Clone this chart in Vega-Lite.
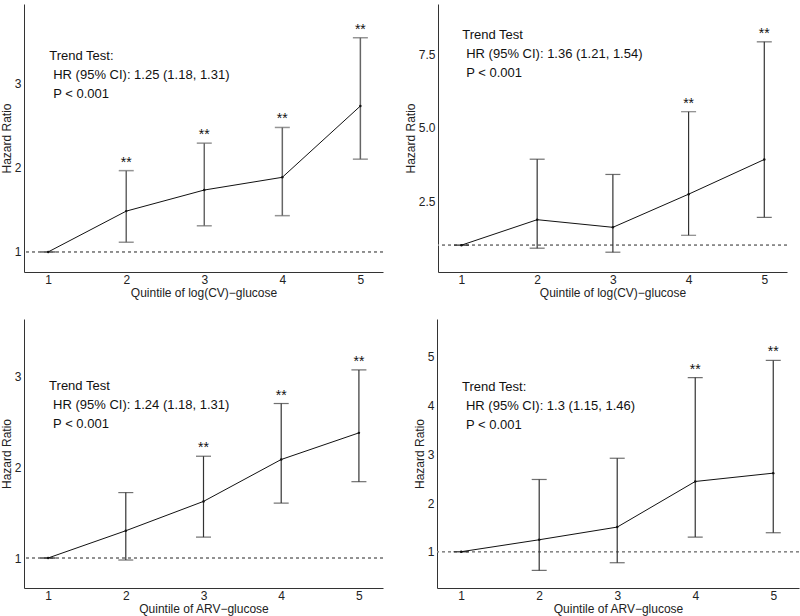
{
  "$schema": "https://vega.github.io/schema/vega-lite/v6.json",
  "padding": {"left": 0, "top": 4, "right": 0, "bottom": 3},
  "config": {
    "view": {"stroke": null},
    "font": "Liberation Sans",
    "axis": {"grid": false, "ticks": false, "domainColor": "#333", "domainWidth": 1, "labelFont": "Liberation Sans", "labelFontSize": 12, "labelColor": "#222", "titleFont": "Liberation Sans", "titleFontSize": 12, "titleFontWeight": "normal", "titleColor": "#222", "labelPadding": 3, "titlePadding": 1},
    "axisX": {"labelPadding": 2, "titlePadding": 2, "format": "d"},
    "text": {"font": "Liberation Sans", "color": "#111"}
  },
  "datasets": {
    "points": [
      {"panel": "A", "quintile": 1, "hr": 1.0, "lo": 1.0, "hi": 1.0, "sig": ""},
      {"panel": "A", "quintile": 2, "hr": 1.484, "lo": 1.115, "hi": 1.964, "sig": "**"},
      {"panel": "A", "quintile": 3, "hr": 1.734, "lo": 1.31, "hi": 2.29, "sig": "**"},
      {"panel": "A", "quintile": 4, "hr": 1.885, "lo": 1.43, "hi": 2.476, "sig": "**"},
      {"panel": "A", "quintile": 5, "hr": 2.73, "lo": 2.1, "hi": 3.54, "sig": "**"},
      {"panel": "B", "quintile": 1, "hr": 1.0, "lo": 1.0, "hi": 1.0, "sig": ""},
      {"panel": "B", "quintile": 2, "hr": 1.868, "lo": 0.897, "hi": 3.93, "sig": ""},
      {"panel": "B", "quintile": 3, "hr": 1.608, "lo": 0.76, "hi": 3.41, "sig": ""},
      {"panel": "B", "quintile": 4, "hr": 2.737, "lo": 1.337, "hi": 5.547, "sig": "**"},
      {"panel": "B", "quintile": 5, "hr": 3.92, "lo": 1.947, "hi": 7.93, "sig": "**"},
      {"panel": "C", "quintile": 1, "hr": 1.0, "lo": 1.0, "hi": 1.0, "sig": ""},
      {"panel": "C", "quintile": 2, "hr": 1.3, "lo": 0.978, "hi": 1.72, "sig": ""},
      {"panel": "C", "quintile": 3, "hr": 1.623, "lo": 1.23, "hi": 2.12, "sig": "**"},
      {"panel": "C", "quintile": 4, "hr": 2.084, "lo": 1.604, "hi": 2.7, "sig": "**"},
      {"panel": "C", "quintile": 5, "hr": 2.377, "lo": 1.84, "hi": 3.07, "sig": "**"},
      {"panel": "D", "quintile": 1, "hr": 1.0, "lo": 1.0, "hi": 1.0, "sig": ""},
      {"panel": "D", "quintile": 2, "hr": 1.246, "lo": 0.617, "hi": 2.484, "sig": ""},
      {"panel": "D", "quintile": 3, "hr": 1.506, "lo": 0.774, "hi": 2.92, "sig": ""},
      {"panel": "D", "quintile": 4, "hr": 2.443, "lo": 1.3, "hi": 4.576, "sig": "**"},
      {"panel": "D", "quintile": 5, "hr": 2.614, "lo": 1.39, "hi": 4.93, "sig": "**"}
    ],
    "trend": [
      {"panel": "A", "head": "Trend Test:", "body": "HR (95% CI): 1.25 (1.18, 1.31)\nP < 0.001"},
      {"panel": "B", "head": "Trend Test", "body": "HR (95% CI): 1.36 (1.21, 1.54)\nP < 0.001"},
      {"panel": "C", "head": "Trend Test", "body": "HR (95% CI): 1.24 (1.18, 1.31)\nP < 0.001"},
      {"panel": "D", "head": "Trend Test:", "body": "HR (95% CI): 1.3 (1.15, 1.46)\nP < 0.001"}
    ]
  },
  "vconcat": [
    {
      "hconcat": [
        {
          "width": 359, "height": 268,
          "data": {"name": "points"},
          "transform": [{"filter": "datum.panel == 'A'"}],
          "layer": [
            {"mark": {"type": "rule", "color": "#888", "strokeDash": [3, 3], "strokeWidth": 0.8},
             "encoding": {"y": {"datum": 1, "type": "quantitative", "scale": {"domain": [0.762, 3.94], "nice": false, "zero": false}, "axis": {"values": [1, 2, 3], "format": "d", "title": "Hazard Ratio"}}}},
            {"mark": {"type": "rule", "color": "#666", "strokeWidth": 1.5},
             "encoding": {"x": {"field": "quintile", "type": "quantitative", "scale": {"domain": [0.69, 5.29], "nice": false, "zero": false}, "axis": {"values": [1, 2, 3, 4, 5], "title": "Quintile of log(CV)\u2212glucose"}}, "y": {"field": "lo", "type": "quantitative"}, "y2": {"field": "hi"}}},
            {"mark": {"type": "tick", "orient": "horizontal", "size": 15, "thickness": 1.5, "color": "#666"},
             "encoding": {"x": {"field": "quintile", "type": "quantitative"}, "y": {"field": "lo", "type": "quantitative"}}},
            {"mark": {"type": "tick", "orient": "horizontal", "size": 15, "thickness": 1.5, "color": "#666"},
             "encoding": {"x": {"field": "quintile", "type": "quantitative"}, "y": {"field": "hi", "type": "quantitative"}}},
            {"mark": {"type": "line", "color": "#111", "strokeWidth": 1},
             "encoding": {"x": {"field": "quintile", "type": "quantitative"}, "y": {"field": "hr", "type": "quantitative"}}},
            {"mark": {"type": "point", "filled": true, "size": 6, "color": "#111", "opacity": 1},
             "encoding": {"x": {"field": "quintile", "type": "quantitative"}, "y": {"field": "hr", "type": "quantitative"}}},
            {"mark": {"type": "text", "baseline": "bottom", "dy": -1, "fontSize": 14},
             "encoding": {"x": {"field": "quintile", "type": "quantitative"}, "y": {"field": "hi", "type": "quantitative"}, "text": {"field": "sig"}}},
            {"data": {"name": "trend"},
             "transform": [{"filter": "datum.panel == 'A'"}],
             "layer": [
               {"mark": {"type": "text", "align": "left", "baseline": "alphabetic", "fontSize": 13},
                "encoding": {"x": {"datum": 1.013, "type": "quantitative"}, "y": {"datum": 3.28, "type": "quantitative"}, "text": {"field": "head"}}},
               {"mark": {"type": "text", "align": "left", "baseline": "alphabetic", "fontSize": 13, "lineHeight": 19, "lineBreak": "\n", "dx": 4, "dy": 19},
                "encoding": {"x": {"datum": 1.013, "type": "quantitative"}, "y": {"datum": 3.28, "type": "quantitative"}, "text": {"field": "body"}}}
             ]}
          ]
        },
        {
          "width": 349, "height": 268,
          "data": {"name": "points"},
          "transform": [{"filter": "datum.panel == 'B'"}],
          "layer": [
            {"mark": {"type": "rule", "color": "#888", "strokeDash": [3, 3], "strokeWidth": 0.8},
             "encoding": {"y": {"datum": 1, "type": "quantitative", "scale": {"domain": [0.085, 9.22], "nice": false, "zero": false}, "axis": {"values": [2.5, 5, 7.5], "format": ".1f", "title": "Hazard Ratio"}}}},
            {"mark": {"type": "rule", "color": "#333", "strokeWidth": 1.2},
             "encoding": {"x": {"field": "quintile", "type": "quantitative", "scale": {"domain": [0.69, 5.3], "nice": false, "zero": false}, "axis": {"values": [1, 2, 3, 4, 5], "title": "Quintile of log(CV)\u2212glucose"}}, "y": {"field": "lo", "type": "quantitative"}, "y2": {"field": "hi"}}},
            {"mark": {"type": "tick", "orient": "horizontal", "size": 15, "thickness": 1.2, "color": "#333"},
             "encoding": {"x": {"field": "quintile", "type": "quantitative"}, "y": {"field": "lo", "type": "quantitative"}}},
            {"mark": {"type": "tick", "orient": "horizontal", "size": 15, "thickness": 1.2, "color": "#333"},
             "encoding": {"x": {"field": "quintile", "type": "quantitative"}, "y": {"field": "hi", "type": "quantitative"}}},
            {"mark": {"type": "line", "color": "#111", "strokeWidth": 1},
             "encoding": {"x": {"field": "quintile", "type": "quantitative"}, "y": {"field": "hr", "type": "quantitative"}}},
            {"mark": {"type": "point", "filled": true, "size": 6, "color": "#111", "opacity": 1},
             "encoding": {"x": {"field": "quintile", "type": "quantitative"}, "y": {"field": "hr", "type": "quantitative"}}},
            {"mark": {"type": "text", "baseline": "bottom", "dy": -1, "fontSize": 14},
             "encoding": {"x": {"field": "quintile", "type": "quantitative"}, "y": {"field": "hi", "type": "quantitative"}, "text": {"field": "sig"}}},
            {"data": {"name": "trend"},
             "transform": [{"filter": "datum.panel == 'B'"}],
             "layer": [
               {"mark": {"type": "text", "align": "left", "baseline": "alphabetic", "fontSize": 13},
                "encoding": {"x": {"datum": 1.01, "type": "quantitative"}, "y": {"datum": 8.02, "type": "quantitative"}, "text": {"field": "head"}}},
               {"mark": {"type": "text", "align": "left", "baseline": "alphabetic", "fontSize": 13, "lineHeight": 19, "lineBreak": "\n", "dx": 4, "dy": 19},
                "encoding": {"x": {"datum": 1.01, "type": "quantitative"}, "y": {"datum": 8.02, "type": "quantitative"}, "text": {"field": "body"}}}
             ]}
          ]
        }
      ],
      "spacing": 20
    },
    {
      "hconcat": [
        {
          "width": 359, "height": 269,
          "data": {"name": "points"},
          "transform": [{"filter": "datum.panel == 'C'"}],
          "layer": [
            {"mark": {"type": "rule", "color": "#888", "strokeDash": [3, 3], "strokeWidth": 0.8},
             "encoding": {"y": {"datum": 1, "type": "quantitative", "scale": {"domain": [0.67, 3.63], "nice": false, "zero": false}, "axis": {"values": [1, 2, 3], "format": "d", "title": "Hazard Ratio"}}}},
            {"mark": {"type": "rule", "color": "#333", "strokeWidth": 1.2},
             "encoding": {"x": {"field": "quintile", "type": "quantitative", "scale": {"domain": [0.69, 5.31], "nice": false, "zero": false}, "axis": {"values": [1, 2, 3, 4, 5], "title": "Quintile of ARV\u2212glucose"}}, "y": {"field": "lo", "type": "quantitative"}, "y2": {"field": "hi"}}},
            {"mark": {"type": "tick", "orient": "horizontal", "size": 15, "thickness": 1.2, "color": "#333"},
             "encoding": {"x": {"field": "quintile", "type": "quantitative"}, "y": {"field": "lo", "type": "quantitative"}}},
            {"mark": {"type": "tick", "orient": "horizontal", "size": 15, "thickness": 1.2, "color": "#333"},
             "encoding": {"x": {"field": "quintile", "type": "quantitative"}, "y": {"field": "hi", "type": "quantitative"}}},
            {"mark": {"type": "line", "color": "#111", "strokeWidth": 1},
             "encoding": {"x": {"field": "quintile", "type": "quantitative"}, "y": {"field": "hr", "type": "quantitative"}}},
            {"mark": {"type": "point", "filled": true, "size": 6, "color": "#111", "opacity": 1},
             "encoding": {"x": {"field": "quintile", "type": "quantitative"}, "y": {"field": "hr", "type": "quantitative"}}},
            {"mark": {"type": "text", "baseline": "bottom", "dy": -1, "fontSize": 14},
             "encoding": {"x": {"field": "quintile", "type": "quantitative"}, "y": {"field": "hi", "type": "quantitative"}, "text": {"field": "sig"}}},
            {"data": {"name": "trend"},
             "transform": [{"filter": "datum.panel == 'C'"}],
             "layer": [
               {"mark": {"type": "text", "align": "left", "baseline": "alphabetic", "fontSize": 13},
                "encoding": {"x": {"datum": 1.013, "type": "quantitative"}, "y": {"datum": 2.85, "type": "quantitative"}, "text": {"field": "head"}}},
               {"mark": {"type": "text", "align": "left", "baseline": "alphabetic", "fontSize": 13, "lineHeight": 19, "lineBreak": "\n", "dx": 4, "dy": 19},
                "encoding": {"x": {"datum": 1.013, "type": "quantitative"}, "y": {"datum": 2.85, "type": "quantitative"}, "text": {"field": "body"}}}
             ]}
          ]
        },
        {
          "width": 362, "height": 269,
          "data": {"name": "points"},
          "transform": [{"filter": "datum.panel == 'D'"}],
          "layer": [
            {"mark": {"type": "rule", "color": "#888", "strokeDash": [3, 3], "strokeWidth": 0.8},
             "encoding": {"y": {"datum": 1, "type": "quantitative", "scale": {"domain": [0.255, 5.78], "nice": false, "zero": false}, "axis": {"values": [1, 2, 3, 4, 5], "format": "d", "title": "Hazard Ratio"}}}},
            {"mark": {"type": "rule", "color": "#333", "strokeWidth": 1.2},
             "encoding": {"x": {"field": "quintile", "type": "quantitative", "scale": {"domain": [0.69, 5.33], "nice": false, "zero": false}, "axis": {"values": [1, 2, 3, 4, 5], "title": "Quintile of ARV\u2212glucose"}}, "y": {"field": "lo", "type": "quantitative"}, "y2": {"field": "hi"}}},
            {"mark": {"type": "tick", "orient": "horizontal", "size": 15, "thickness": 1.2, "color": "#333"},
             "encoding": {"x": {"field": "quintile", "type": "quantitative"}, "y": {"field": "lo", "type": "quantitative"}}},
            {"mark": {"type": "tick", "orient": "horizontal", "size": 15, "thickness": 1.2, "color": "#333"},
             "encoding": {"x": {"field": "quintile", "type": "quantitative"}, "y": {"field": "hi", "type": "quantitative"}}},
            {"mark": {"type": "line", "color": "#111", "strokeWidth": 1},
             "encoding": {"x": {"field": "quintile", "type": "quantitative"}, "y": {"field": "hr", "type": "quantitative"}}},
            {"mark": {"type": "point", "filled": true, "size": 6, "color": "#111", "opacity": 1},
             "encoding": {"x": {"field": "quintile", "type": "quantitative"}, "y": {"field": "hr", "type": "quantitative"}}},
            {"mark": {"type": "text", "baseline": "bottom", "dy": -1, "fontSize": 14},
             "encoding": {"x": {"field": "quintile", "type": "quantitative"}, "y": {"field": "hi", "type": "quantitative"}, "text": {"field": "sig"}}},
            {"data": {"name": "trend"},
             "transform": [{"filter": "datum.panel == 'D'"}],
             "layer": [
               {"mark": {"type": "text", "align": "left", "baseline": "alphabetic", "fontSize": 13},
                "encoding": {"x": {"datum": 1.01, "type": "quantitative"}, "y": {"datum": 4.31, "type": "quantitative"}, "text": {"field": "head"}}},
               {"mark": {"type": "text", "align": "left", "baseline": "alphabetic", "fontSize": 13, "lineHeight": 19, "lineBreak": "\n", "dx": 4, "dy": 19},
                "encoding": {"x": {"datum": 1.01, "type": "quantitative"}, "y": {"datum": 4.31, "type": "quantitative"}, "text": {"field": "body"}}}
             ]}
          ]
        }
      ],
      "spacing": 29
    }
  ],
  "spacing": 21
}
